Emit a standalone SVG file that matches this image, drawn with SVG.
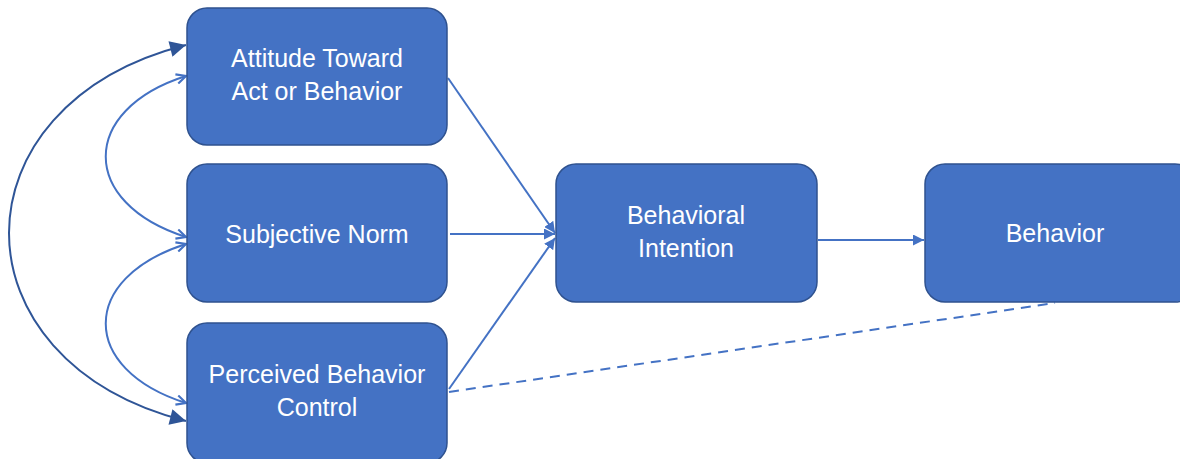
<svg xmlns="http://www.w3.org/2000/svg" width="1180" height="459" viewBox="0 0 1180 459">
<style>
.box{fill:#4472C4;stroke:#2F528F;stroke-width:1.5}
.lbl{font-family:"Liberation Sans",Arial,sans-serif;font-size:25px;fill:#ffffff;text-anchor:middle}
.ln{fill:none;stroke:#4472C4;stroke-width:2}
</style>
<defs>
<marker id="tri" viewBox="0 0 10 10" refX="10" refY="5" markerWidth="11" markerHeight="11" markerUnits="userSpaceOnUse" orient="auto"><path d="M0,0 L10,5 L0,10 z" fill="#4472C4"/></marker>
<marker id="open" viewBox="0 0 10 10" refX="9" refY="5" markerWidth="12" markerHeight="12" markerUnits="userSpaceOnUse" orient="auto-start-reverse"><path d="M1,1 L9,5 L1,9" fill="none" stroke="#4472C4" stroke-width="1.8"/></marker>
<marker id="big" viewBox="0 0 10 10" refX="10" refY="5" markerWidth="18" markerHeight="16" markerUnits="userSpaceOnUse" orient="auto-start-reverse"><path d="M0,0 L10,5 L0,10 z" fill="#2F5597"/></marker>
</defs>
<g id="connectors">
<path class="ln" d="M186,76 C79,110 79,203 186,237" marker-start="url(#open)" marker-end="url(#open)"/>
<path class="ln" d="M186,244 C79,278 79,369 186,403" marker-start="url(#open)" marker-end="url(#open)"/>
<path d="M186,45 C-50,105 -50,361 186,421" fill="none" stroke="#2F5597" stroke-width="2" marker-start="url(#big)" marker-end="url(#big)"/>
<line class="ln" x1="448" y1="78" x2="555" y2="233" marker-end="url(#tri)"/>
<line class="ln" x1="450" y1="234" x2="555" y2="234" marker-end="url(#tri)"/>
<line class="ln" x1="449" y1="389" x2="555" y2="238" marker-end="url(#tri)"/>
<line class="ln" x1="818" y1="240" x2="924" y2="240" marker-end="url(#tri)"/>
<line class="ln" x1="449" y1="392" x2="1055" y2="303" stroke-dasharray="10,7"/>
</g>
<g id="attitude">
<rect class="box" x="187" y="8" width="260" height="137" rx="20"/>
<text class="lbl" x="317" y="67">Attitude Toward</text>
<text class="lbl" x="317" y="100">Act or Behavior</text>
</g>
<g id="subjective-norm">
<rect class="box" x="187" y="164" width="260" height="138" rx="20"/>
<text class="lbl" x="317" y="243">Subjective Norm</text>
</g>
<g id="perceived-control">
<rect class="box" x="187" y="323" width="260" height="140" rx="20"/>
<text class="lbl" x="317" y="383">Perceived Behavior</text>
<text class="lbl" x="317" y="416">Control</text>
</g>
<g id="behavioral-intention">
<rect class="box" x="556" y="164" width="261" height="138" rx="20"/>
<text class="lbl" x="686" y="224">Behavioral</text>
<text class="lbl" x="686" y="257">Intention</text>
</g>
<g id="behavior">
<rect class="box" x="925" y="164" width="270" height="138" rx="20"/>
<text class="lbl" x="1055" y="242">Behavior</text>
</g>
</svg>
